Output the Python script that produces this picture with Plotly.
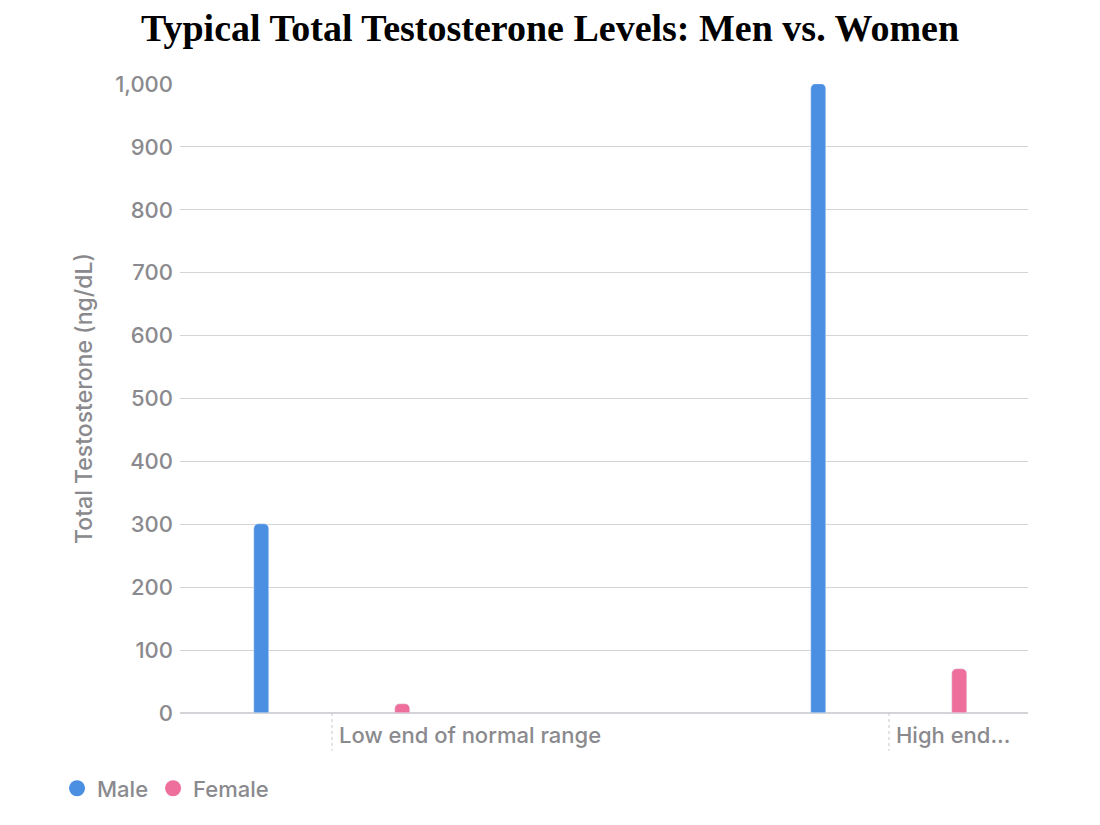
import plotly.graph_objects as go

categories = ["Low end of normal range", "High end..."]
male_values = [300, 1000]
female_values = [15, 70]
y_ticks = [0, 100, 200, 300, 400, 500, 600, 700, 800, 900, 1000]

BLUE = "#4A8FE2"
PINK = "#EE6E9C"
GRAY = "#8A8A8E"
GRID = "#D4D4D8"
SANS = "Inter, Roboto, sans-serif"

pos = list(range(len(categories)))
off = 0.1265
bw = 0.027

fig = go.Figure()
fig.add_trace(go.Bar(x=[p - off for p in pos], y=male_values, width=bw,
                     marker=dict(color=BLUE, cornerradius=5), name="Male",
                     showlegend=False))
fig.add_trace(go.Bar(x=[p + off for p in pos], y=female_values, width=bw,
                     marker=dict(color=PINK, cornerradius=5), name="Female",
                     showlegend=False))
for nm, col in [("Male", BLUE), ("Female", PINK)]:
    fig.add_trace(go.Scatter(x=[None], y=[None], mode="markers", name=nm,
                             marker=dict(color=col, size=16, symbol="circle")))

for p in pos:
    fig.add_shape(type="line", xref="x", yref="paper", x0=p, x1=p, y0=0, y1=-0.06,
                  line=dict(color="#C8C8CC", width=1, dash="dot"))

fig.update_layout(
    width=1100, height=825,
    margin=dict(l=172, r=80, t=76, b=120),
    paper_bgcolor="white", plot_bgcolor="white",
    title=dict(text="<b>Typical Total Testosterone Levels: Men vs. Women</b>",
               x=542 / 1100, xanchor="center", y=1 - 6 / 825, yanchor="top", yref="container",
               pad=dict(t=0, b=0),
               font=dict(family="Liberation Serif, serif", size=38, color="black")),
    xaxis=dict(range=[-0.273, 1.2496], tickvals=pos, ticktext=categories,
               ticklabelposition="outside right", ticklabelshift=7, ticklabelstandoff=7,
               showgrid=False, zeroline=False,
               showline=False, ticks="", tickfont=dict(family=SANS, size=22, color=GRAY, weight=500),
               fixedrange=True),
    yaxis=dict(range=[0, 1000], tickvals=y_ticks, tickformat=",d",
               showgrid=True, gridcolor=GRID, gridwidth=1, zeroline=True, zerolinecolor=GRID,
               showline=False, ticks="", ticklabelstandoff=6,
               tickfont=dict(family=SANS, size=22, color=GRAY, weight=500),
               title=dict(text="Total Testosterone (ng/dL)", standoff=16,
                          font=dict(family=SANS, size=23, color=GRAY, weight=500))),
    legend=dict(orientation="h", x=-0.145, xanchor="left", y=-0.12, yanchor="middle",
                font=dict(family=SANS, size=22, color=GRAY, weight=500),
                tracegroupgap=0, itemwidth=30),
    bargap=0,
)
fig.write_html("out.html")
